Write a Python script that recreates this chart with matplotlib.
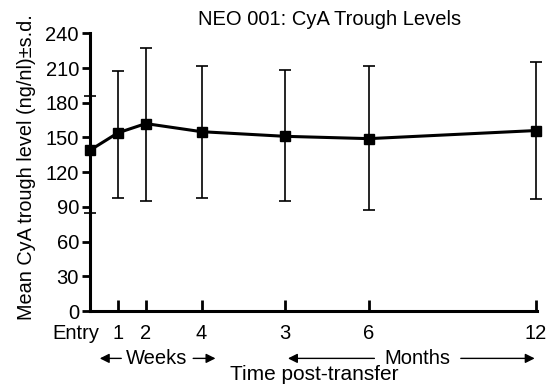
import matplotlib
matplotlib.use("Agg")
import matplotlib.pyplot as plt
import matplotlib.transforms as mtransforms
import numpy as np

plt.rcParams['font.family'] = ['Liberation Sans', 'DejaVu Sans']

# data
labels = ['Entry', '1', '2', '4', '3', '6', '12']
x_pos = [0, 1, 2, 4, 7, 10, 16]   # spacing along the time axis
mean_level = [139, 154, 162, 155, 151, 149, 156]
upper = [186, 207, 227, 212, 208, 212, 215]
lower = [85, 98, 95, 98, 95, 87, 97]

yerr = [np.subtract(mean_level, lower), np.subtract(upper, mean_level)]

fig = plt.figure(figsize=(5.49, 3.87), dpi=100)
ax = fig.add_axes([0.164, 0.196, 0.815, 0.718])

ax.errorbar(x_pos, mean_level, yerr=yerr, color='black', lw=2.2,
            marker='s', markersize=7, elinewidth=1.2, capsize=4.5,
            capthick=1.2, clip_on=False, zorder=3)

ax.set_xlim(0, 16.05)
ax.set_ylim(0, 240)
ax.set_yticks(np.arange(0, 241, 30))
ax.set_xticks(x_pos)
ax.set_xticklabels(labels)

for s in ['top', 'right']:
    ax.spines[s].set_visible(False)
for s in ['left', 'bottom']:
    ax.spines[s].set_linewidth(2.2)

ax.tick_params(axis='y', direction='out', length=6, width=2, labelsize=14.5, pad=2)
ax.tick_params(axis='x', direction='in', length=8, width=2, labelsize=14.5, pad=9)

# "Entry" sits left of the axis corner
shift = mtransforms.ScaledTranslation(-0.14, 0, fig.dpi_scale_trans)
entry_lbl = ax.get_xticklabels()[0]
entry_lbl.set_transform(entry_lbl.get_transform() + shift)

ax.set_title('NEO 001: CyA Trough Levels', fontsize=14.5, x=0.535, pad=6)
ax.set_ylabel('Mean CyA trough level (ng/nl)±s.d.', fontsize=14.3, labelpad=7)
ax.yaxis.set_label_coords(-0.12, 0.52)
ax.set_xlabel('Time post-transfer', fontsize=15, labelpad=16)

# Weeks / Months arrows under the tick labels
tr = ax.get_xaxis_transform()
yrow = -0.17
arrow = dict(arrowstyle='-|>', color='black', lw=1, mutation_scale=14)
ax.text(2.4, yrow, 'Weeks', transform=tr, ha='center', va='center', fontsize=14.5)
ax.annotate('', xy=(0.25, yrow), xytext=(1.22, yrow), xycoords=tr,
            textcoords=tr, arrowprops=arrow)
ax.annotate('', xy=(4.6, yrow), xytext=(3.6, yrow), xycoords=tr,
            textcoords=tr, arrowprops=arrow)
ax.text(11.75, yrow, 'Months', transform=tr, ha='center', va='center', fontsize=14.5)
ax.annotate('', xy=(7.0, yrow), xytext=(10.3, yrow), xycoords=tr,
            textcoords=tr, arrowprops=arrow)
ax.annotate('', xy=(16.05, yrow), xytext=(13.2, yrow), xycoords=tr,
            textcoords=tr, arrowprops=arrow)

fig.savefig('out.png', dpi=100)
